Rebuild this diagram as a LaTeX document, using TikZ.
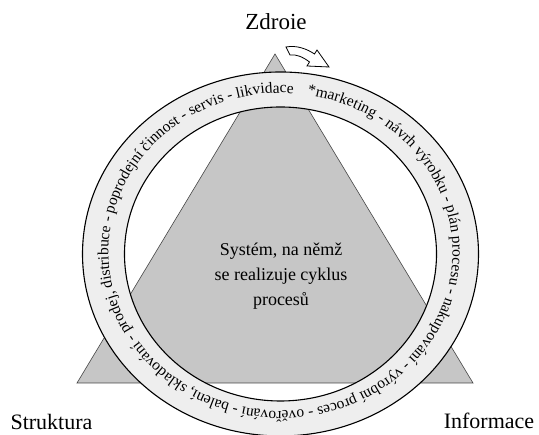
\documentclass[tikz,border=0pt]{standalone}
\usepackage{fontspec}
\setmainfont{Liberation Serif}
\newfontfamily\diagserif{Liberation Serif}
\usetikzlibrary{decorations.text}
\definecolor{trigray}{RGB}{198,198,198}
\definecolor{ringgray}{RGB}{238,238,238}
\begin{document}
\begin{tikzpicture}[x=1pt,y=1pt,
  font=\diagserif,
  cornerlabel/.style={font=\diagserif\fontsize{22}{26}\selectfont, inner sep=0pt, anchor=base},
  systext/.style={font=\diagserif\fontsize{18}{25}\selectfont, align=center, inner sep=0pt},
  ringline/.style={line width=1.1pt, draw=black}]
\useasboundingbox (0,0) rectangle (539,435);
\fill[white] (0,0) rectangle (539,435);

% the system triangle
\draw[fill=trigray, draw=gray!55!black, line width=0.6pt]
  (77,52) -- (473,52) -- (275,381) -- cycle;

% the process ring
\coordinate (rc) at (280.5,181);
\fill[ringgray, even odd rule]
  (rc) ellipse [x radius=198pt, y radius=182pt]
  (rc) ellipse [x radius=156pt, y radius=147pt];
\draw[ringline] (rc) ellipse [x radius=198pt, y radius=182pt];
\draw[ringline] (rc) ellipse [x radius=156pt, y radius=147pt];

% the cycle of processes written along the ring, clockwise
\coordinate (tc) at (280.5,183);
\path[decorate, decoration={text along path, text align=left,
  text={|\diagserif\fontsize{15.5}{15.5}\selectfont|*marketing - návrh výrobku - plán procesu - nakupování - výrobní proces - ověřování - balení, skladování - prodej, distribuce - poprodejní činnost - servis - likvidace}}]
  ([shift={(tc)}]81:172pt and 159pt)
  arc [start angle=81, end angle=-279, x radius=172pt, y radius=159pt];

% direction arrow above the ring
\draw[fill=white, line width=0.8pt, line join=miter]
  (286,388) .. controls (297,390) and (307,386) .. (314.5,381)
  -- (317,385) -- (329,368) -- (307,369) -- (309.5,373)
  .. controls (303,378) and (296,381) .. (290,380) -- cycle;

% labels
\node[cornerlabel, font=\diagserif\fontsize{23}{26}\selectfont] (zdroje) at (276,405) {Zdroie};
\node[cornerlabel] (struktura) at (51.5,5) {Struktura};
\node[cornerlabel] (informace) at (489,6.5) {Informace};
\node[systext] (system) at (281,159) {Systém, na němž\\se realizuje cyklus\\procesů};
\end{tikzpicture}
\end{document}
